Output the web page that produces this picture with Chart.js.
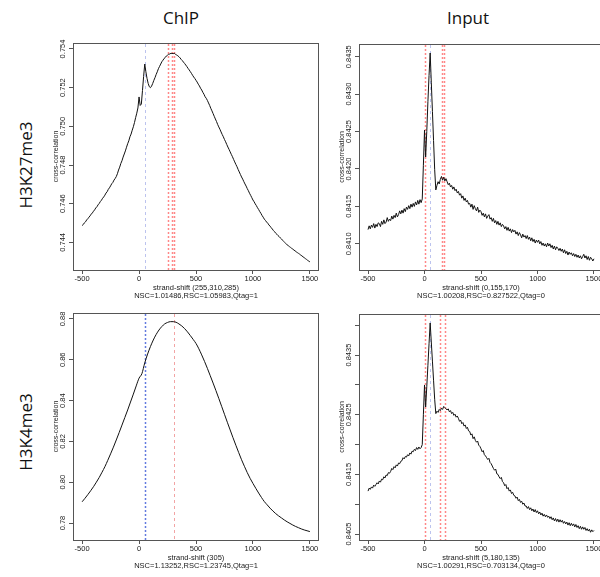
<!DOCTYPE html>
<html>
<head>
<meta charset="utf-8">
<script src="https://cdn.jsdelivr.net/npm/chart.js@4.4.1/dist/chart.umd.min.js"></script>
<style>
  html, body { margin: 0; padding: 0; width: 600px; height: 577px; overflow: hidden; background: #fff; }
  canvas { position: absolute; }
  .lbl {
    position: absolute; font-family: "Open Sans", sans-serif; font-size: 17px; color: #111;
    white-space: nowrap; line-height: 1; transform: translate(-50%, -50%);
  }
  .row { transform: translate(-50%, -50%) rotate(-90deg); }
</style>
</head>
<body>
<div class="lbl" style="left:181px;top:17px">ChIP</div>
<div class="lbl" style="left:468px;top:17px">Input</div>
<div class="lbl row" style="left:25px;top:165px">H3K27me3</div>
<div class="lbl row" style="left:25px;top:432px">H3K4me3</div>

<canvas id="p1" width="300" height="280" style="left:30px;top:30px"></canvas>
<canvas id="p2" width="304" height="280" style="left:316px;top:30px"></canvas>
<canvas id="p3" width="300" height="280" style="left:30px;top:300px"></canvas>
<canvas id="p4" width="304" height="280" style="left:316px;top:300px"></canvas>

<script>
// strand shifts (x) used for the sampled curves
const shiftFine = [
  -500, -490, -480, -470, -460, -450, -440, -430, -420, -410,
  -400, -390, -380, -370, -360, -350, -340, -330, -320, -310,
  -300, -290, -280, -270, -260, -250, -240, -230, -220, -210,
  -200, -190, -180, -170, -160, -150, -140, -130, -120, -110,
  -100, -90, -80, -70, -60, -50, -40, -30, -20, -10,
  0, 10, 20, 30, 40, 50, 60, 70, 80, 90,
  100, 110, 120, 130, 140, 150, 160, 170, 180, 190,
  200, 210, 220, 230, 240, 250, 260, 270, 280, 290,
  300, 310, 320, 330, 340, 350, 360, 370, 380, 390,
  400, 410, 420, 430, 440, 450, 460, 470, 480, 490,
  500, 510, 520, 530, 540, 550, 560, 570, 580, 590,
  600, 610, 620, 630, 640, 650, 660, 670, 680, 690,
  700, 710, 720, 730, 740, 750, 760, 770, 780, 790,
  800, 810, 820, 830, 840, 850, 860, 870, 880, 890,
  900, 910, 920, 930, 940, 950, 960, 970, 980, 990,
  1000, 1010, 1020, 1030, 1040, 1050, 1060, 1070, 1080, 1090,
  1100, 1110, 1120, 1130, 1140, 1150, 1160, 1170, 1180, 1190,
  1200, 1210, 1220, 1230, 1240, 1250, 1260, 1270, 1280, 1290,
  1300, 1310, 1320, 1330, 1340, 1350, 1360, 1370, 1380, 1390,
  1400, 1410, 1420, 1430, 1440, 1450, 1460, 1470, 1480, 1490,
  1500
];
const shiftCoarse = [
  -500, -475, -450, -425, -400, -375, -350, -325,
  -300, -275, -250, -225, -200, -175, -150, -125,
  -100, -75, -50, -25, 0, 25, 50, 75,
  100, 125, 150, 175, 200, 225, 250, 275,
  300, 325, 350, 375, 400, 425, 450, 475,
  500, 525, 550, 575, 600, 625, 650, 675,
  700, 725, 750, 775, 800, 825, 850, 875,
  900, 925, 950, 975, 1000, 1025, 1050, 1075,
  1100, 1125, 1150, 1175, 1200, 1225, 1250, 1275,
  1300, 1325, 1350, 1375, 1400, 1425, 1450, 1475,
  1500
];

// cross-correlation values
const chipK27 = [
  0.74487, 0.74492, 0.74501, 0.74506, 0.74516, 0.74522, 0.74530, 0.74537, 0.74546, 0.74552,
  0.74561, 0.74568, 0.74578, 0.74584, 0.74594, 0.74601, 0.74611, 0.74618, 0.74628, 0.74635,
  0.74644, 0.74655, 0.74662, 0.74674, 0.74682, 0.74692, 0.74703, 0.74710, 0.74722, 0.74730,
  0.74740, 0.74755, 0.74774, 0.74789, 0.74808, 0.74822, 0.74841, 0.74857, 0.74873, 0.74892,
  0.74910, 0.74925, 0.74946, 0.74960, 0.74980, 0.74998, 0.75020, 0.75045, 0.75068, 0.75095,
  0.75152, 0.75108, 0.75115, 0.75185, 0.75258, 0.75322, 0.75282, 0.75248, 0.75222, 0.75205,
  0.75200, 0.75208, 0.75222, 0.75238, 0.75252, 0.75268, 0.75282, 0.75298, 0.75310, 0.75322,
  0.75334, 0.75342, 0.75351, 0.75356, 0.75364, 0.75368, 0.75373, 0.75374, 0.75378, 0.75377,
  0.75376, 0.75378, 0.75372, 0.75369, 0.75365, 0.75360, 0.75354, 0.75346, 0.75340, 0.75332,
  0.75325, 0.75317, 0.75309, 0.75300, 0.75292, 0.75283, 0.75274, 0.75264, 0.75255, 0.75247,
  0.75238, 0.75229, 0.75218, 0.75209, 0.75197, 0.75188, 0.75176, 0.75166, 0.75153, 0.75145,
  0.75134, 0.75121, 0.75108, 0.75093, 0.75080, 0.75066, 0.75052, 0.75038, 0.75025, 0.75010,
  0.74997, 0.74985, 0.74971, 0.74958, 0.74946, 0.74932, 0.74920, 0.74906, 0.74893, 0.74881,
  0.74868, 0.74855, 0.74843, 0.74829, 0.74816, 0.74803, 0.74791, 0.74777, 0.74764, 0.74751,
  0.74738, 0.74727, 0.74714, 0.74702, 0.74691, 0.74678, 0.74667, 0.74654, 0.74643, 0.74631,
  0.74619, 0.74610, 0.74599, 0.74590, 0.74579, 0.74570, 0.74559, 0.74550, 0.74539, 0.74530,
  0.74520, 0.74513, 0.74505, 0.74499, 0.74490, 0.74484, 0.74476, 0.74469, 0.74461, 0.74455,
  0.74447, 0.74442, 0.74435, 0.74430, 0.74423, 0.74418, 0.74411, 0.74405, 0.74399, 0.74393,
  0.74387, 0.74383, 0.74378, 0.74374, 0.74369, 0.74365, 0.74360, 0.74356, 0.74351, 0.74347,
  0.74343, 0.74339, 0.74334, 0.74330, 0.74325, 0.74321, 0.74316, 0.74312, 0.74307, 0.74303,
  0.74299
];
const inputK27 = [
  0.84119, 0.84124, 0.84120, 0.84125, 0.84122, 0.84127, 0.84121, 0.84126, 0.84123, 0.84128,
  0.84127, 0.84123, 0.84130, 0.84126, 0.84132, 0.84127, 0.84129, 0.84135, 0.84130, 0.84133,
  0.84131, 0.84137, 0.84133, 0.84138, 0.84135, 0.84141, 0.84136, 0.84139, 0.84144, 0.84140,
  0.84145, 0.84141, 0.84147, 0.84143, 0.84149, 0.84146, 0.84151, 0.84147, 0.84153, 0.84149,
  0.84154, 0.84150, 0.84156, 0.84152, 0.84158, 0.84153, 0.84159, 0.84155, 0.84160, 0.84205,
  0.84252, 0.84216, 0.84250, 0.84290, 0.84325, 0.84355, 0.84316, 0.84277, 0.84238, 0.84199,
  0.84172, 0.84178, 0.84183, 0.84180, 0.84186, 0.84190, 0.84185, 0.84189, 0.84184, 0.84187,
  0.84183, 0.84179, 0.84181, 0.84176, 0.84178, 0.84173, 0.84176, 0.84171, 0.84173, 0.84168,
  0.84170, 0.84165, 0.84167, 0.84161, 0.84164, 0.84158, 0.84161, 0.84156, 0.84158, 0.84153,
  0.84154, 0.84149, 0.84153, 0.84146, 0.84151, 0.84147, 0.84144, 0.84149, 0.84142, 0.84145,
  0.84143, 0.84138, 0.84141, 0.84136, 0.84140, 0.84134, 0.84137, 0.84139, 0.84133, 0.84135,
  0.84130, 0.84134, 0.84128, 0.84131, 0.84126, 0.84130, 0.84125, 0.84128, 0.84123, 0.84126,
  0.84124, 0.84120, 0.84123, 0.84118, 0.84122, 0.84117, 0.84120, 0.84115, 0.84119, 0.84116,
  0.84118, 0.84113, 0.84116, 0.84111, 0.84115, 0.84112, 0.84108, 0.84113, 0.84109, 0.84111,
  0.84107, 0.84111, 0.84106, 0.84109, 0.84104, 0.84108, 0.84103, 0.84106, 0.84101, 0.84105,
  0.84102, 0.84105, 0.84100, 0.84103, 0.84098, 0.84101, 0.84097, 0.84100, 0.84096, 0.84101,
  0.84097, 0.84100, 0.84095, 0.84098, 0.84093, 0.84097, 0.84092, 0.84096, 0.84094, 0.84091,
  0.84094, 0.84090, 0.84093, 0.84088, 0.84092, 0.84087, 0.84090, 0.84085, 0.84089, 0.84086,
  0.84088, 0.84084, 0.84087, 0.84083, 0.84086, 0.84082, 0.84085, 0.84081, 0.84084, 0.84080,
  0.84083, 0.84086, 0.84081, 0.84084, 0.84079, 0.84083, 0.84078, 0.84082, 0.84080, 0.84077,
  0.84080
];
const chipK4 = [
  0.7904, 0.7921, 0.7939, 0.7958, 0.7978, 0.8000, 0.8023, 0.8049,
  0.8076, 0.8107, 0.8139, 0.8172, 0.8207, 0.8243, 0.8280, 0.8317,
  0.8354, 0.8393, 0.8432, 0.8472, 0.8510, 0.8532, 0.8585, 0.8628,
  0.8665, 0.8697, 0.8724, 0.8746, 0.8763, 0.8776, 0.8783, 0.8787,
  0.8787, 0.8784, 0.8776, 0.8766, 0.8753, 0.8737, 0.8719, 0.8700,
  0.8680, 0.8654, 0.8624, 0.8592, 0.8558, 0.8522, 0.8486, 0.8449,
  0.8411, 0.8372, 0.8333, 0.8294, 0.8256, 0.8218, 0.8181, 0.8145,
  0.8110, 0.8078, 0.8047, 0.8019, 0.7994, 0.7970, 0.7947, 0.7925,
  0.7905, 0.7889, 0.7873, 0.7859, 0.7846, 0.7835, 0.7825, 0.7815,
  0.7806, 0.7798, 0.7790, 0.7783, 0.7777, 0.7771, 0.7766, 0.7762,
  0.7758
];
const inputK4 = [
  0.84122, 0.84127, 0.84125, 0.84129, 0.84127, 0.84132, 0.84130, 0.84133, 0.84136, 0.84134,
  0.84139, 0.84137, 0.84142, 0.84141, 0.84146, 0.84144, 0.84149, 0.84148, 0.84153, 0.84152,
  0.84155, 0.84160, 0.84158, 0.84163, 0.84161, 0.84166, 0.84164, 0.84169, 0.84168, 0.84172,
  0.84173, 0.84178, 0.84176, 0.84180, 0.84179, 0.84183, 0.84181, 0.84186, 0.84184, 0.84189,
  0.84188, 0.84192, 0.84190, 0.84195, 0.84192, 0.84196, 0.84193, 0.84195, 0.84200, 0.84250,
  0.84300, 0.84263, 0.84297, 0.84333, 0.84369, 0.84404, 0.84372, 0.84340, 0.84308, 0.84276,
  0.84252, 0.84256, 0.84254, 0.84259, 0.84257, 0.84261, 0.84259, 0.84264, 0.84262, 0.84260,
  0.84258, 0.84260, 0.84255, 0.84257, 0.84252, 0.84254, 0.84249, 0.84251, 0.84246, 0.84248,
  0.84244, 0.84239, 0.84241, 0.84235, 0.84237, 0.84231, 0.84233, 0.84227, 0.84229, 0.84223,
  0.84222, 0.84216, 0.84218, 0.84210, 0.84213, 0.84207, 0.84204, 0.84206, 0.84199, 0.84197,
  0.84193, 0.84188, 0.84190, 0.84183, 0.84181, 0.84178, 0.84175, 0.84177, 0.84170, 0.84168,
  0.84164, 0.84160, 0.84157, 0.84159, 0.84151, 0.84150, 0.84146, 0.84143, 0.84145, 0.84138,
  0.84136, 0.84131, 0.84133, 0.84126, 0.84128, 0.84122, 0.84124, 0.84118, 0.84120, 0.84115,
  0.84114, 0.84110, 0.84112, 0.84106, 0.84108, 0.84103, 0.84105, 0.84100, 0.84102, 0.84097,
  0.84097, 0.84093, 0.84096, 0.84091, 0.84094, 0.84089, 0.84092, 0.84087, 0.84091, 0.84086,
  0.84089, 0.84084, 0.84087, 0.84082, 0.84085, 0.84080, 0.84083, 0.84079, 0.84082, 0.84078,
  0.84080, 0.84076, 0.84079, 0.84074, 0.84077, 0.84072, 0.84076, 0.84071, 0.84075, 0.84070,
  0.84074, 0.84070, 0.84073, 0.84068, 0.84071, 0.84067, 0.84070, 0.84065, 0.84069, 0.84064,
  0.84068, 0.84064, 0.84067, 0.84062, 0.84066, 0.84061, 0.84064, 0.84059, 0.84063, 0.84058,
  0.84062, 0.84058, 0.84061, 0.84056, 0.84059, 0.84055, 0.84058, 0.84053, 0.84057, 0.84054,
  0.84056
];

// tick positions and labels
const xTicks = [-500, 0, 500, 1000, 1500];
const yTicks1 = [0.744, 0.746, 0.748, 0.750, 0.752, 0.754];
const yLabels1 = ['0.744', '0.746', '0.748', '0.750', '0.752', '0.754'];
const yTicks2 = [0.8410, 0.8415, 0.8420, 0.8425, 0.8430, 0.8435];
const yLabels2 = ['0.8410', '0.8415', '0.8420', '0.8425', '0.8430', '0.8435'];
const yTicks3 = [0.78, 0.80, 0.82, 0.84, 0.86, 0.88];
const yLabels3 = ['0.78', '0.80', '0.82', '0.84', '0.86', '0.88'];
const yTicks4 = [0.8405, 0.8410, 0.8415, 0.8420, 0.8425, 0.8430, 0.8435, 0.8440];
const yLabels4 = ['0.8405', '', '0.8415', '', '0.8425', '', '0.8435', ''];

// x titles under each panel
const xTitle1 = ['strand-shift (255,310,285)', 'NSC=1.01486,RSC=1.05983,Qtag=1'];
const xTitle2 = ['strand-shift (0,155,170)', 'NSC=1.00208,RSC=0.827522,Qtag=0'];
const xTitle3 = ['strand-shift (305)', 'NSC=1.13252,RSC=1.23745,Qtag=1'];
const xTitle4 = ['strand-shift (5,180,135)', 'NSC=1.00291,RSC=0.703134,Qtag=0'];
const yTitle = 'cross-correlation';

// vertical marker lines (strand shift)
const redShifts1 = [255, 285, 310];
const blueShifts1 = [50];
const redShifts2 = [0, 155, 170];
const blueShifts2 = [50];
const redShifts3 = [305];
const blueShifts3 = [50];
const redShifts4 = [5, 135, 180];
const blueShifts4 = [50];

const FONT = '"Liberation Sans", Arial, sans-serif';
const INK = '#1a1a1a';
const AXIS = '#555';

/*
  Box around the plot region, like R's default frame.
*/
const framePlugin = {
  id: 'frame',
  afterDraw(chart) {
    const a = chart.chartArea;
    const ctx = chart.ctx;
    ctx.save();
    ctx.strokeStyle = AXIS;
    ctx.lineWidth = 1;
    ctx.strokeRect(a.left + 0.5, a.top + 0.5, a.right - a.left - 1, a.bottom - a.top);
    ctx.restore();
  }
};

function markerPlugin(lines) {
  return {
    id: 'markers',
    beforeDatasetsDraw(chart) {
      const xs = chart.scales.x;
      const a = chart.chartArea;
      const ctx = chart.ctx;
      ctx.save();
      lines.forEach(l => {
        l.at.forEach(v => {
          const px = Math.round(xs.getPixelForValue(v)) + 0.5;
          ctx.strokeStyle = l.color;
          ctx.lineWidth = l.width;
          ctx.setLineDash(l.dash);
          ctx.beginPath();
          ctx.moveTo(px, a.top + 1);
          ctx.lineTo(px, a.bottom);
          ctx.stroke();
        });
      });
      ctx.restore();
    }
  };
}

// y tick labels and title are rotated like R's (las=0), so they are drawn here
function yLabelPlugin(labels) {
  return {
    id: 'ylabels',
    afterDraw(chart) {
      const ys = chart.scales.y;
      const a = chart.chartArea;
      const ctx = chart.ctx;
      ctx.save();
      ctx.fillStyle = INK;
      ctx.textAlign = 'center';
      ctx.textBaseline = 'middle';
      ctx.font = '7.5px ' + FONT;
      ys.ticks.forEach((t, i) => {
        if (!labels[i]) return;
        ctx.save();
        ctx.translate(a.left - 10, ys.getPixelForValue(t.value));
        ctx.rotate(-Math.PI / 2);
        ctx.fillText(labels[i], 0, 0);
        ctx.restore();
      });
      ctx.font = '7px ' + FONT;
      ctx.translate(a.left - 17, (a.top + a.bottom) / 2);
      ctx.rotate(-Math.PI / 2);
      ctx.fillText(yTitle, 0, 0);
      ctx.restore();
    }
  };
}

function drawPanel(id, shifts, values, opt) {
  const points = shifts.map((s, i) => ({ x: s, y: values[i] }));
  return new Chart(document.getElementById(id), {
    type: 'line',
    data: {
      datasets: [{
        data: points,
        borderColor: '#111',
        borderWidth: 1,
        pointRadius: 0,
        fill: false,
        tension: opt.smooth ? 0.4 : 0,
        cubicInterpolationMode: opt.smooth ? 'monotone' : 'default'
      }]
    },
    options: {
      responsive: false,
      animation: false,
      events: [],
      layout: { padding: { top: opt.top, right: opt.right, bottom: 8, left: 0 } },
      plugins: { legend: { display: false }, tooltip: { enabled: false } },
      scales: {
        x: {
          type: 'linear',
          min: -580,
          max: 1580,
          afterBuildTicks: s => { s.ticks = xTicks.map(v => ({ value: v })); },
          afterFit: s => { s.height = 32; },
          border: { display: false },
          grid: { drawOnChartArea: false, drawTicks: true, tickLength: 4, color: AXIS },
          ticks: {
            font: { family: FONT, size: 7.5, lineHeight: '8px' },
            color: INK, padding: 1, maxRotation: 0, autoSkip: false,
            callback: v => String(v)
          },
          title: {
            display: true,
            text: opt.xTitle,
            color: INK,
            font: { family: FONT, size: 7.5, lineHeight: '8px' },
            padding: { top: 0, bottom: 2.5 }
          }
        },
        y: {
          type: 'linear',
          min: opt.yMin,
          max: opt.yMax,
          afterBuildTicks: s => { s.ticks = opt.yTicks.map(v => ({ value: v })); },
          afterFit: s => { s.width = 43; },
          border: { display: false },
          grid: { drawOnChartArea: false, drawTicks: true, tickLength: 4, color: AXIS },
          ticks: { font: { family: FONT, size: 7.5 }, callback: () => '' },
          title: { display: false }
        }
      }
    },
    plugins: [framePlugin, markerPlugin(opt.lines), yLabelPlugin(opt.yLabels)]
  });
}

const strongRed = { color: 'rgba(255,85,85,0.7)', width: 1.5, dash: [2, 2] };
const paleBlue = { color: '#bcc3ee', width: 1, dash: [3, 3] };

drawPanel('p1', shiftFine, chipK27, {
  top: 13, right: 11, yMin: 0.74257, yMax: 0.75431,
  yTicks: yTicks1, yLabels: yLabels1, xTitle: xTitle1,
  lines: [Object.assign({ at: blueShifts1 }, paleBlue), Object.assign({ at: redShifts1 }, strongRed)]
});
drawPanel('p2', shiftFine, inputK27, {
  top: 14, right: 17, yMin: 0.84065, yMax: 0.84367,
  yTicks: yTicks2, yLabels: yLabels2, xTitle: xTitle2,
  lines: [Object.assign({ at: blueShifts2 }, paleBlue), Object.assign({ at: redShifts2 }, strongRed)]
});
drawPanel('p3', shiftCoarse, chipK4, {
  top: 13, right: 11, yMin: 0.77167, yMax: 0.88294, smooth: true,
  yTicks: yTicks3, yLabels: yLabels3, xTitle: xTitle3,
  lines: [
    { at: redShifts3, color: '#f2a4a4', width: 1, dash: [3, 3] },
    { at: blueShifts3, color: 'rgba(60,90,215,0.8)', width: 1.5, dash: [2, 2] }
  ]
});
drawPanel('p4', shiftFine, inputK4, {
  top: 14, right: 17, yMin: 0.84040, yMax: 0.84419,
  yTicks: yTicks4, yLabels: yLabels4, xTitle: xTitle4,
  lines: [Object.assign({ at: blueShifts4 }, paleBlue), Object.assign({ at: redShifts4 }, strongRed)]
});
</script>
</body>
</html>
